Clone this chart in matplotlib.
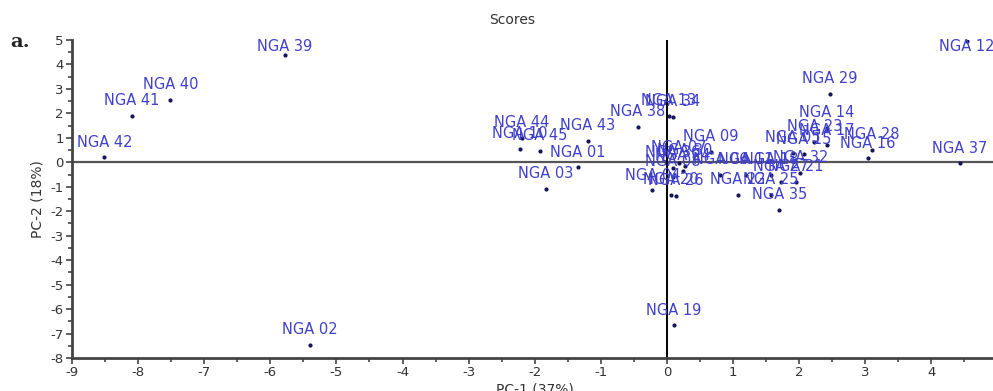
import numpy as np
import matplotlib.pyplot as plt
from matplotlib.ticker import MultipleLocator

# PCA scores (PC-1, PC-2)
names = ['NGA 39', 'NGA 40', 'NGA 41', 'NGA 42', 'NGA 02', 'NGA 19', 'NGA 12', 'NGA 37',
         'NGA 29', 'NGA 14', 'NGA 23', 'NGA 17', 'NGA 28', 'NGA 16', 'NGA 35', 'NGA 38',
         'NGA 43', 'NGA 44', 'NGA 45', 'NGA 10', 'NGA 01', 'NGA 03', 'NGA 13', 'NGA 34',
         'NGA 09', 'NGA 07', 'NGA 36', 'NGA 24', 'NGA 30', 'NGA 08', 'NGA 04', 'NGA 20',
         'NGA 26', 'NGA 06', 'NGA 11', 'NGA 18', 'NGA 32', 'NGA 27', 'NGA 21', 'NGA 22',
         'NGA 25', 'NGA 05', 'NGA 15']
pc1 = [-5.78, -7.51, -8.09, -8.51, -5.40, 0.10, 4.54, 4.43,
       2.46, 2.42, 2.23, 2.42, 3.10, 3.04, 1.70, -0.44,
       -1.20, -2.20, -1.92, -2.22, -1.35, -1.83, 0.03, 0.09,
       0.66, 0.18, 0.09, 0.24, 0.27, 0.09, -0.22, 0.06,
       0.14, 0.81, 1.19, 1.57, 2.02, 1.72, 1.95, 1.07,
       1.57, 1.90, 2.07]
pc2 = [4.40, 2.56, 1.90, 0.21, -7.46, -6.67, 4.94, -0.03,
       2.80, 1.41, 0.84, 0.69, 0.51, 0.17, -1.94, 1.46,
       0.88, 1.00, 0.47, 0.55, -0.21, -1.08, 1.90, 1.86,
       0.43, -0.02, -0.22, -0.35, -0.14, -0.59, -1.15, -1.33,
       -1.37, -0.51, -0.51, -0.51, -0.43, -0.80, -0.80, -1.33,
       -1.33, 0.40, 0.34]

plt.rcParams['font.family'] = ['DejaVu Sans']
plt.rcParams['axes.unicode_minus'] = False

fig = plt.figure(figsize=(9.93, 3.91), dpi=100)
ax = fig.add_axes([0.0725, 0.0844, 0.932, 0.8133])

ax.set_xlim(-9, 5)
ax.set_ylim(-8, 5)
ax.axhline(0, color='#555555', lw=1.6, zorder=1)
ax.axvline(0, color='black', lw=1.4, zorder=1)

ax.scatter(pc1, pc2, s=4, color='#14145a', zorder=3)
for n, x, y in zip(names, pc1, pc2):
    # label sits above its point, kept inside the top of the frame
    ly = min(y + 0.61, 4.72)
    ax.text(x, ly, n, ha='center', va='center', fontsize=10.5,
            color='#4040cc', zorder=4)

for s in ['top', 'right']:
    ax.spines[s].set_visible(False)
for s in ['left', 'bottom']:
    ax.spines[s].set_color('#444444')
    ax.spines[s].set_linewidth(2)

ax.xaxis.set_major_locator(MultipleLocator(1))
ax.xaxis.set_minor_locator(MultipleLocator(0.5))
ax.yaxis.set_major_locator(MultipleLocator(1))
ax.yaxis.set_minor_locator(MultipleLocator(0.5))
ax.tick_params(which='major', length=4, width=1.2, color='#444444',
               labelsize=9.5, labelcolor='#333333', pad=2)
ax.tick_params(which='minor', length=3, width=1.2, color='#444444')

ax.set_xlabel('PC-1 (37%)', fontsize=10, color='#333333', labelpad=2)
ax.set_ylabel('PC-2 (18%)', fontsize=10, color='#333333', labelpad=4)

fig.text(0.5156, 0.948, 'Scores', ha='center', va='center', fontsize=10, color='#333333')
fig.text(0.02, 0.893, 'a.', ha='center', va='center', fontsize=14,
         fontweight='bold', family='DejaVu Serif', color='#222222')

fig.savefig('out.png', dpi=100)
